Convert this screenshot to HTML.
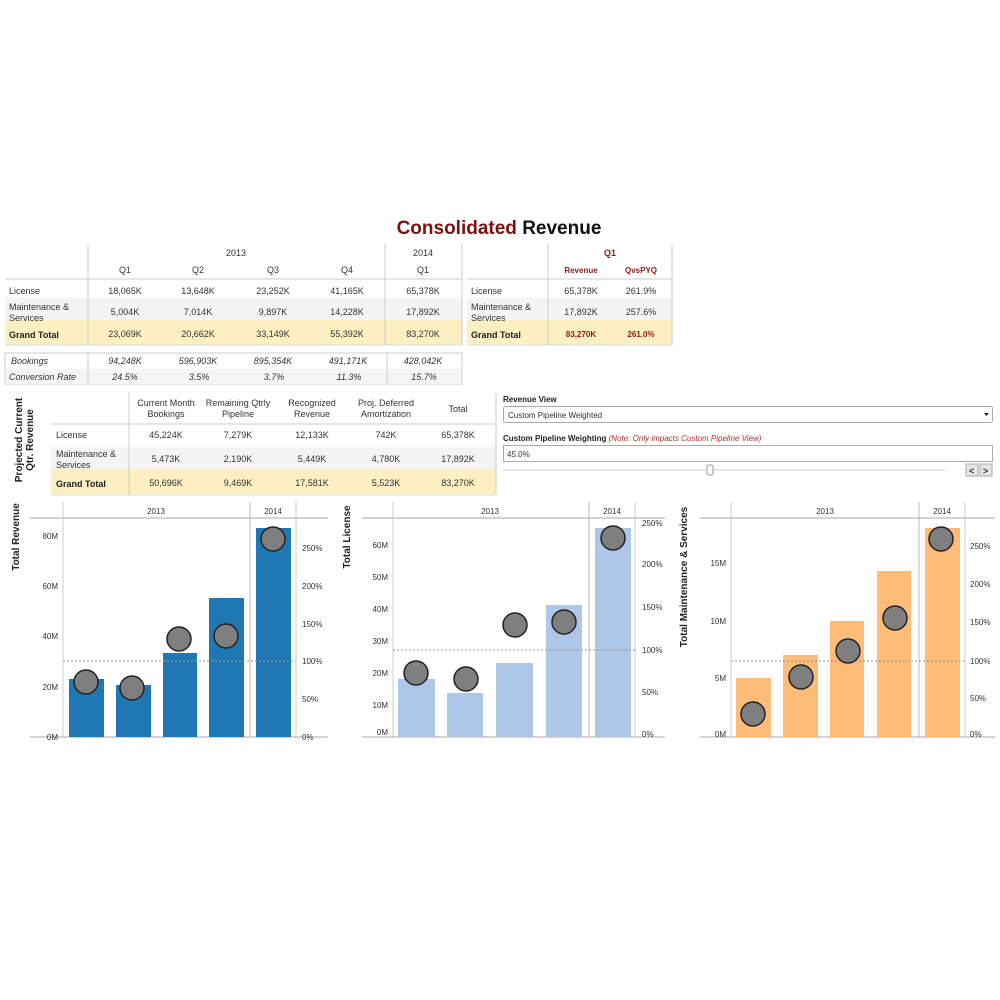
<!DOCTYPE html>
<html><head><meta charset="utf-8"><style>
html,body{margin:0;padding:0;background:#fff;}
svg{display:block;font-family:"Liberation Sans",Arial,sans-serif;}
</style></head><body>
<svg width="1000" height="1000" viewBox="0 0 1000 1000" xmlns="http://www.w3.org/2000/svg">
<rect width="1000" height="1000" fill="#fff"/>
<!-- Title -->
<text x="499" y="234" text-anchor="middle" font-size="19" font-weight="bold"><tspan fill="#7a1010">Consolidated</tspan><tspan fill="#111"> Revenue</tspan></text>

<!-- Table 1 -->
<g font-size="9" fill="#333">
<rect x="5" y="298" width="457" height="22" fill="#f4f4f4"/>
<rect x="5" y="320" width="457" height="25" fill="#fcefc2"/>
<line x1="88" y1="244" x2="88" y2="345" stroke="#ccc"/>
<line x1="385" y1="244" x2="385" y2="345" stroke="#ccc"/>
<line x1="462" y1="244" x2="462" y2="345" stroke="#ccc"/>
<line x1="5" y1="279" x2="462" y2="279" stroke="#ccc"/>
<line x1="5" y1="345" x2="462" y2="345" stroke="#ddd"/>
<g text-anchor="middle">
<text x="236" y="256">2013</text><text x="423" y="256">2014</text>
<text x="125" y="273">Q1</text><text x="198" y="273">Q2</text><text x="273" y="273">Q3</text><text x="347" y="273">Q4</text><text x="423" y="273">Q1</text>
<text x="125" y="294">18,065K</text><text x="198" y="294">13,648K</text><text x="273" y="294">23,252K</text><text x="347" y="294">41,165K</text><text x="423" y="294">65,378K</text>
<text x="125" y="315">5,004K</text><text x="198" y="315">7,014K</text><text x="273" y="315">9,897K</text><text x="347" y="315">14,228K</text><text x="423" y="315">17,892K</text>
<text x="125" y="337">23,069K</text><text x="198" y="337">20,662K</text><text x="273" y="337">33,149K</text><text x="347" y="337">55,392K</text><text x="423" y="337">83,270K</text>
</g>
<text x="9" y="294">License</text>
<text x="9" y="310">Maintenance &amp;</text><text x="9" y="321">Services</text>
<text x="9" y="338" font-weight="bold" fill="#222">Grand Total</text>

<rect x="5" y="353" width="457" height="31" fill="none" stroke="#ccc"/>
<rect x="6" y="369" width="455" height="15" fill="#f5f5f5"/>
<line x1="88" y1="353" x2="88" y2="384" stroke="#ccc"/>
<line x1="387" y1="353" x2="387" y2="384" stroke="#ccc"/>
<g font-style="italic">
<text x="11" y="364">Bookings</text><text x="9" y="380">Conversion Rate</text>
<g text-anchor="middle">
<text x="125" y="364">94,248K</text><text x="198" y="364">596,903K</text><text x="273" y="364">895,354K</text><text x="348" y="364">491,171K</text><text x="423" y="364">428,042K</text>
<text x="125" y="380">24.5%</text><text x="199" y="380">3.5%</text><text x="274" y="380">3.7%</text><text x="349" y="380">11.3%</text><text x="424" y="380">15.7%</text>
</g></g>
</g>

<!-- Table 2 -->
<g font-size="9" fill="#333">
<rect x="467" y="298" width="205" height="22" fill="#f4f4f4"/>
<rect x="467" y="320" width="205" height="25" fill="#fcefc2"/>
<line x1="548" y1="244" x2="548" y2="345" stroke="#ccc"/>
<line x1="672" y1="244" x2="672" y2="345" stroke="#ccc"/>
<line x1="467" y1="279" x2="672" y2="279" stroke="#ccc"/>
<line x1="467" y1="345" x2="672" y2="345" stroke="#ddd"/>
<g text-anchor="middle" fill="#8b1a1a" font-weight="bold">
<text x="610" y="256">Q1</text>
<text x="581" y="273" font-size="8">Revenue</text><text x="641" y="273" font-size="8">QvsPYQ</text>
<text x="581" y="337" font-size="8">83,270K</text><text x="641" y="337" font-size="8">261.0%</text>
</g>
<g text-anchor="middle">
<text x="581" y="294">65,378K</text><text x="641" y="294">261.9%</text>
<text x="581" y="315">17,892K</text><text x="641" y="315">257.6%</text>
</g>
<text x="471" y="294">License</text>
<text x="471" y="310">Maintenance &amp;</text><text x="471" y="321">Services</text>
<text x="471" y="338" font-weight="bold" fill="#222">Grand Total</text>
</g>

<!-- Table 3 -->
<g font-size="9" fill="#333">
<text transform="translate(22,440) rotate(-90)" text-anchor="middle" font-weight="bold" font-size="10" fill="#222">Projected Current</text>
<text transform="translate(33,440) rotate(-90)" text-anchor="middle" font-weight="bold" font-size="10" fill="#222">Qtr. Revenue</text>
<rect x="51" y="447" width="445" height="22" fill="#f4f4f4"/>
<rect x="51" y="469" width="445" height="26" fill="#fcefc2"/>
<line x1="129" y1="393" x2="129" y2="495" stroke="#ccc"/>
<line x1="496" y1="393" x2="496" y2="495" stroke="#ccc"/>
<line x1="51" y1="424" x2="496" y2="424" stroke="#ccc"/>
<line x1="51" y1="495" x2="496" y2="495" stroke="#ddd"/>
<g text-anchor="middle">
<text x="166" y="406">Current Month</text><text x="166" y="417">Bookings</text>
<text x="238" y="406">Remaining Qtrly</text><text x="238" y="417">Pipeline</text>
<text x="312" y="406">Recognized</text><text x="312" y="417">Revenue</text>
<text x="386" y="406">Proj. Deferred</text><text x="386" y="417">Amortization</text>
<text x="458" y="412">Total</text>
<text x="166" y="438">45,224K</text><text x="238" y="438">7,279K</text><text x="312" y="438">12,133K</text><text x="386" y="438">742K</text><text x="458" y="438">65,378K</text>
<text x="166" y="462">5,473K</text><text x="238" y="462">2,190K</text><text x="312" y="462">5,449K</text><text x="386" y="462">4,780K</text><text x="458" y="462">17,892K</text>
<text x="166" y="486">50,696K</text><text x="238" y="486">9,469K</text><text x="312" y="486">17,581K</text><text x="386" y="486">5,523K</text><text x="458" y="486">83,270K</text>
</g>
<text x="56" y="438">License</text>
<text x="56" y="457">Maintenance &amp;</text><text x="56" y="468">Services</text>
<text x="56" y="487" font-weight="bold" fill="#222">Grand Total</text>
</g>

<!-- Controls -->
<g font-size="8" fill="#333">
<text x="503" y="402" font-weight="bold" fill="#222">Revenue View</text>
<rect x="503.5" y="406.5" width="489" height="16" rx="2" fill="#fff" stroke="#aaa"/>
<text x="508" y="418">Custom Pipeline Weighted</text>
<path d="M984 413 l5 0 l-2.5 3 z" fill="#222"/>
<text x="503" y="441"><tspan font-weight="bold" fill="#222">Custom Pipeline Weighting </tspan><tspan font-style="italic" fill="#b03030">(Note: Only impacts Custom Pipeline View)</tspan></text>
<rect x="503.5" y="445.5" width="489" height="16" fill="#fff" stroke="#aaa"/>
<text x="507" y="457">45.0%</text>
<line x1="503" y1="470" x2="945" y2="470" stroke="#ccc"/>
<rect x="707" y="465" width="6" height="10" rx="2" fill="#fff" stroke="#999"/>
<rect x="966" y="464" width="12" height="12" fill="#e6e6e6" stroke="#aaa"/>
<rect x="980" y="464" width="12" height="12" fill="#e6e6e6" stroke="#aaa"/>
<text x="969" y="474" font-weight="bold" font-size="9">&lt;</text>
<text x="983" y="474" font-weight="bold" font-size="9">&gt;</text>
</g>

<!-- Chart 1 -->
<g font-size="8" fill="#333">
<text transform="translate(19,537) rotate(-90)" text-anchor="middle" font-size="10" font-weight="bold" fill="#222">Total Revenue</text>
<line x1="63" y1="502" x2="63" y2="737" stroke="#ccc"/>
<line x1="250" y1="502" x2="250" y2="737" stroke="#bbb"/>
<line x1="296" y1="502" x2="296" y2="737" stroke="#ccc"/>
<line x1="30" y1="518" x2="328" y2="518" stroke="#aaa"/>
<line x1="30" y1="737" x2="328" y2="737" stroke="#aaa"/>
<text x="156" y="514" text-anchor="middle">2013</text><text x="273" y="514" text-anchor="middle">2014</text>
<g text-anchor="end"><text x="58" y="740">0M</text><text x="58" y="690">20M</text><text x="58" y="639">40M</text><text x="58" y="589">60M</text><text x="58" y="539">80M</text></g>
<g><text x="302" y="740">0%</text><text x="302" y="702">50%</text><text x="302" y="664">100%</text><text x="302" y="627">150%</text><text x="302" y="589">200%</text><text x="302" y="551">250%</text></g>
<g fill="#1f77b4">
<rect x="69" y="679" width="35" height="58"/><rect x="116" y="685" width="35" height="52"/><rect x="163" y="653" width="34" height="84"/><rect x="209" y="598" width="35" height="139"/><rect x="256" y="528" width="35" height="209"/>
</g>
<line x1="63" y1="661" x2="296" y2="661" stroke="#999" stroke-dasharray="2,2"/>
<g fill="#7f7f7f" stroke="#222" stroke-width="1.5">
<circle cx="86" cy="682" r="12"/><circle cx="132" cy="688" r="12"/><circle cx="179" cy="639" r="12"/><circle cx="226" cy="636" r="12"/><circle cx="273" cy="539" r="12"/>
</g>
</g>

<!-- Chart 2 -->
<g font-size="8" fill="#333">
<text transform="translate(350,537) rotate(-90)" text-anchor="middle" font-size="10" font-weight="bold" fill="#222">Total License</text>
<line x1="393" y1="502" x2="393" y2="737" stroke="#ccc"/>
<line x1="589" y1="502" x2="589" y2="737" stroke="#bbb"/>
<line x1="635" y1="502" x2="635" y2="737" stroke="#ccc"/>
<line x1="362" y1="518" x2="665" y2="518" stroke="#aaa"/>
<line x1="362" y1="737" x2="665" y2="737" stroke="#aaa"/>
<text x="490" y="514" text-anchor="middle">2013</text><text x="612" y="514" text-anchor="middle">2014</text>
<g text-anchor="end"><text x="388" y="735">0M</text><text x="388" y="708">10M</text><text x="388" y="676">20M</text><text x="388" y="644">30M</text><text x="388" y="612">40M</text><text x="388" y="580">50M</text><text x="388" y="548">60M</text></g>
<g><text x="642" y="737">0%</text><text x="642" y="695">50%</text><text x="642" y="653">100%</text><text x="642" y="610">150%</text><text x="642" y="567">200%</text><text x="642" y="526">250%</text></g>
<g fill="#aec7e8">
<rect x="398" y="679" width="37" height="58"/><rect x="447" y="693" width="36" height="44"/><rect x="496" y="663" width="37" height="74"/><rect x="546" y="605" width="36" height="132"/><rect x="595" y="528" width="36" height="209"/>
</g>
<line x1="393" y1="650" x2="635" y2="650" stroke="#999" stroke-dasharray="2,2"/>
<g fill="#7f7f7f" stroke="#222" stroke-width="1.5">
<circle cx="416" cy="673" r="12"/><circle cx="466" cy="679" r="12"/><circle cx="515" cy="625" r="12"/><circle cx="564" cy="622" r="12"/><circle cx="613" cy="538" r="12"/>
</g>
</g>

<!-- Chart 3 -->
<g font-size="8" fill="#333">
<text transform="translate(687,577) rotate(-90)" text-anchor="middle" font-size="10" font-weight="bold" fill="#222">Total Maintenance &amp; Services</text>
<line x1="731" y1="502" x2="731" y2="737" stroke="#ccc"/>
<line x1="919" y1="502" x2="919" y2="737" stroke="#bbb"/>
<line x1="965" y1="502" x2="965" y2="737" stroke="#ccc"/>
<line x1="700" y1="518" x2="995" y2="518" stroke="#aaa"/>
<line x1="700" y1="737" x2="995" y2="737" stroke="#aaa"/>
<text x="825" y="514" text-anchor="middle">2013</text><text x="942" y="514" text-anchor="middle">2014</text>
<g text-anchor="end"><text x="726" y="737">0M</text><text x="726" y="681">5M</text><text x="726" y="624">10M</text><text x="726" y="566">15M</text></g>
<g><text x="970" y="737">0%</text><text x="970" y="701">50%</text><text x="970" y="664">100%</text><text x="970" y="625">150%</text><text x="970" y="587">200%</text><text x="970" y="549">250%</text></g>
<g fill="#ffbb78">
<rect x="736" y="678" width="35" height="59"/><rect x="783" y="655" width="35" height="82"/><rect x="830" y="621" width="34" height="116"/><rect x="877" y="571" width="34" height="166"/><rect x="925" y="528" width="35" height="209"/>
</g>
<line x1="731" y1="661" x2="965" y2="661" stroke="#999" stroke-dasharray="2,2"/>
<g fill="#7f7f7f" stroke="#222" stroke-width="1.5">
<circle cx="753" cy="714" r="12"/><circle cx="801" cy="677" r="12"/><circle cx="848" cy="651" r="12"/><circle cx="895" cy="618" r="12"/><circle cx="941" cy="539" r="12"/>
</g>
</g>
</svg>
</body></html>
